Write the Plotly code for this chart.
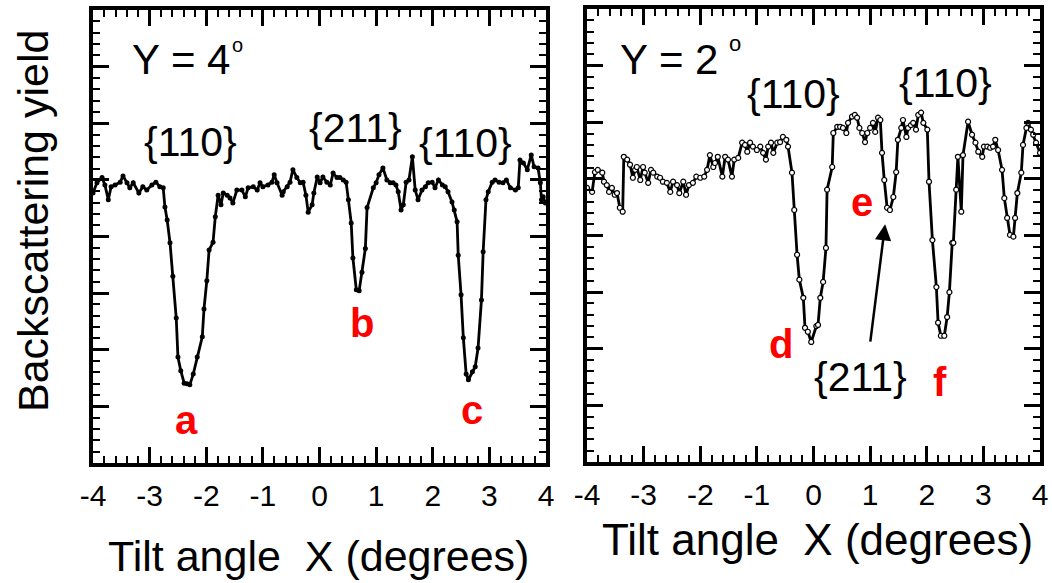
import plotly.graph_objects as go

# ---- data: left panel (Y = 4 deg), tilt angle X (deg) vs backscattering yield (arb. units)
x_left = [-4.00, -3.93, -3.84, -3.79, -3.73, -3.68, -3.61, -3.52, -3.47, -3.40, -3.35, -3.29, -3.19,
          -3.12, -3.05, -2.96, -2.89, -2.82, -2.76, -2.73, -2.69, -2.64, -2.59, -2.53, -2.50, -2.45,
          -2.39, -2.34, -2.29, -2.23, -2.16, -2.07, -2.04, -1.99, -1.95, -1.88, -1.84, -1.79, -1.74,
          -1.70, -1.63, -1.58, -1.53, -1.46, -1.37, -1.31, -1.26, -1.17, -1.10, -1.05, -1.00, -0.91,
          -0.84, -0.80, -0.75, -0.66, -0.64, -0.57, -0.52, -0.47, -0.40, -0.34, -0.29, -0.24, -0.20,
          -0.13, -0.10, -0.04, 0.01, 0.06, 0.13, 0.19, 0.24, 0.31, 0.36, 0.42, 0.47, 0.51, 0.56, 0.59,
          0.65, 0.70, 0.75, 0.81, 0.84, 0.95, 1.00, 1.05, 1.12, 1.19, 1.25, 1.30, 1.35, 1.39, 1.44,
          1.48, 1.53, 1.58, 1.64, 1.69, 1.74, 1.81, 1.87, 1.92, 1.99, 2.04, 2.10, 2.17, 2.22, 2.27,
          2.34, 2.38, 2.43, 2.45, 2.50, 2.54, 2.59, 2.63, 2.70, 2.75, 2.80, 2.86, 2.89, 2.94, 2.98,
          3.05, 3.10, 3.17, 3.24, 3.30, 3.37, 3.46, 3.51, 3.54, 3.60, 3.67, 3.74, 3.79, 3.86, 3.90,
          3.92, 3.95, 3.99]
y_left = [4.77, 4.95, 5.04, 4.91, 4.65, 4.88, 4.91, 4.96, 5.07, 4.95, 4.86, 4.95, 4.77,
          4.88, 4.82, 4.91, 4.96, 4.88, 4.86, 4.52, 4.29, 3.89, 3.30, 2.56, 1.87, 1.63,
          1.41, 1.40, 1.38, 1.57, 1.87, 2.23, 2.72, 3.22, 3.76, 3.90, 4.35, 4.73, 4.56,
          4.77, 4.73, 4.68, 4.59, 4.82, 4.82, 4.70, 4.86, 4.88, 4.82, 4.95, 4.88, 4.91,
          4.96, 5.09, 4.95, 4.73, 4.79, 4.88, 4.96, 5.18, 5.04, 4.95, 4.96, 4.73, 4.43,
          4.56, 4.77, 5.05, 4.95, 5.05, 4.96, 4.91, 5.12, 5.04, 5.04, 5.00, 4.96, 4.65, 4.24, 3.62,
          3.06, 3.04, 3.37, 3.79, 4.51, 4.86, 4.95, 5.09, 5.21, 5.00, 4.95, 4.95, 4.91, 4.79, 4.47,
          4.56, 4.96, 5.00, 5.41, 4.82, 4.65, 4.82, 4.88, 4.95, 4.96, 4.86, 5.00, 4.91, 4.88, 4.79,
          4.61, 4.47, 4.26, 3.67, 2.97, 2.21, 1.57, 1.47, 1.61, 1.70, 2.03, 2.88, 3.73, 4.65, 4.79,
          4.96, 5.00, 4.96, 4.95, 5.00, 4.86, 4.82, 4.86, 5.35, 5.30, 5.18, 5.44, 5.23, 5.21, 4.95,
          4.65, 4.70, 4.59]

# ---- data: right panel (Y = 2 deg)
x_right = [-4.00, -3.91, -3.86, -3.81, -3.73, -3.70, -3.65, -3.61, -3.56, -3.51, -3.47, -3.42, -3.37,
           -3.35, -3.29, -3.24, -3.19, -3.15, -3.12, -3.06, -3.01, -2.98, -2.92, -2.87, -2.83, -2.76,
           -2.71, -2.66, -2.59, -2.53, -2.48, -2.41, -2.37, -2.30, -2.25, -2.20, -2.13, -2.07, -2.00,
           -1.93, -1.88, -1.83, -1.77, -1.74, -1.69, -1.61, -1.56, -1.51, -1.44, -1.40, -1.33, -1.26,
           -1.21, -1.17, -1.12, -1.07, -1.00, -0.94, -0.89, -0.84, -0.80, -0.75, -0.71, -0.64, -0.59,
           -0.54, -0.48, -0.45, -0.38, -0.34, -0.29, -0.25, -0.18, -0.15, -0.10, -0.04, 0.05, 0.08,
           0.12, 0.17, 0.22, 0.24, 0.33, 0.35, 0.42, 0.47, 0.52, 0.58, 0.61, 0.68, 0.73, 0.77, 0.81,
           0.86, 0.91, 0.95, 1.00, 1.05, 1.09, 1.14, 1.18, 1.21, 1.25, 1.30, 1.35, 1.41, 1.46, 1.49,
           1.55, 1.58, 1.64, 1.67, 1.72, 1.76, 1.81, 1.85, 1.90, 1.94, 2.01, 2.04, 2.10, 2.17, 2.20,
           2.25, 2.31, 2.36, 2.40, 2.45, 2.47, 2.52, 2.55, 2.61, 2.64, 2.73, 2.80, 2.86, 2.91, 2.98,
           3.01, 3.07, 3.12, 3.17, 3.21, 3.26, 3.33, 3.37, 3.42, 3.47, 3.53, 3.56, 3.60, 3.67, 3.70,
           3.76, 3.79, 3.84, 3.88, 3.93, 4.00]
y_right = [4.84, 4.77, 5.12, 5.16, 5.11, 4.95, 4.89, 4.77, 4.84, 4.72, 4.75, 4.49, 4.42,
           5.39, 5.34, 5.25, 5.02, 5.16, 5.21, 4.98, 5.21, 5.11, 4.93, 5.16, 5.11, 5.04,
           5.02, 4.95, 4.93, 4.77, 4.95, 4.89, 4.75, 4.95, 4.72, 4.89, 4.93, 5.04, 5.02,
           5.04, 5.16, 5.42, 5.21, 5.28, 5.39, 5.04, 5.39, 5.34, 5.04, 5.34, 5.37, 5.64,
           5.60, 5.48, 5.64, 5.57, 5.51, 5.57, 5.46, 5.34, 5.57, 5.64, 5.46, 5.64, 5.65,
           5.74, 5.69, 5.57, 5.11, 4.45, 3.66, 3.22, 2.90, 2.37, 2.30, 2.12, 2.40, 2.42,
           2.90, 3.18, 3.78, 4.81, 5.21, 5.81, 5.92, 5.92, 5.90, 5.81, 5.99, 6.10, 6.13, 6.08, 5.90,
           5.81, 5.65, 5.81, 5.90, 5.99, 5.83, 6.08, 6.04, 5.46, 4.98, 4.49, 4.45, 4.68, 5.12, 5.69,
           5.90, 6.04, 5.74, 5.90, 5.95, 5.99, 5.87, 6.13, 6.17, 5.99, 5.87, 4.95, 3.92, 3.09, 2.46,
           2.23, 2.23, 2.56, 3.00, 3.87, 3.87, 4.81, 5.39, 4.42, 5.42, 6.01, 5.78, 5.64, 5.48, 5.39,
           5.57, 5.57, 5.55, 5.57, 5.69, 5.51, 5.16, 4.66, 4.31, 4.01, 3.98, 4.31, 4.75, 5.11, 5.60,
           5.90, 5.99, 5.87, 5.78, 5.64, 5.46]

x_ticks = [-4, -3, -2, -1, 0, 1, 2, 3, 4]
x_title = "Tilt angle\u00a0 X (degrees)"
y_title = "Backscattering yield"

FONT = "Liberation Sans, Arial, sans-serif"

fig = go.Figure()
fig.add_trace(go.Scatter(x=x_left, y=y_left, mode="lines+markers", xaxis="x", yaxis="y",
                         line=dict(color="black", width=2.8),
                         marker=dict(size=5, color="black"), showlegend=False))
fig.add_trace(go.Scatter(x=x_right, y=y_right, mode="lines+markers", xaxis="x2", yaxis="y2",
                         line=dict(color="black", width=2.8),
                         marker=dict(size=5, color="white", line=dict(color="black", width=1.2)),
                         showlegend=False))

axis_common = dict(showline=True, linewidth=3.5, linecolor="black", mirror="allticks",
                   ticks="inside", ticklen=16, tickwidth=2.5, tickcolor="black",
                   showgrid=False, zeroline=False, automargin=False,
                   minor=dict(ticks="inside", ticklen=7, tickwidth=2.2, tickcolor="black", dtick=0.2))

xa = dict(axis_common, range=[-4, 4], tickvals=x_ticks, ticktext=[str(v) for v in x_ticks],
          tickfont=dict(family=FONT, size=30, color="black"), ticklabelstandoff=3)
ya = dict(axis_common, range=[0, 8], dtick=1, showticklabels=False)

fig.update_layout(
    width=1052, height=583, autosize=False,
    margin=dict(l=0, r=0, t=0, b=0, pad=0),
    paper_bgcolor="white", plot_bgcolor="white",
    xaxis=dict(xa, domain=[93/1052, 546/1052], anchor="y"),
    yaxis=dict(ya, domain=[(583-463)/583, (583-10)/583], anchor="x"),
    xaxis2=dict(xa, domain=[587/1052, 1040/1052], anchor="y2"),
    yaxis2=dict(ya, domain=[(583-462)/583, (583-9)/583], anchor="x2"),
)

ann = []
def txt(text, x, y, xr, yr, size, color="black", bold=False):
    ann.append(dict(text=("<b>%s</b>" % text) if bold else text, x=x, y=y, xref=xr, yref=yr,
                    showarrow=False, xanchor="center", yanchor="middle",
                    font=dict(family=FONT, size=size, color=color)))

# left panel labels
txt("Y = 4", -2.445, 7.12, "x", "y", 42)
txt("o", -1.456, 7.385, "x", "y", 20)
txt("{110}", -2.286, 5.67, "x", "y", 41)
txt("{211}", 0.629, 5.92, "x", "y", 41)
txt("{110}", 2.572, 5.65, "x", "y", 41)
txt("a", -2.357, 0.76, "x", "y", 40, "red", True)
txt("b", 0.753, 2.47, "x", "y", 40, "red", True)
txt("c", 2.696, 0.94, "x", "y", 40, "red", True)
# right panel labels
txt("Y = 2", -2.551, 7.10, "x2", "y2", 42)
txt("o", -1.385, 7.385, "x2", "y2", 22)
txt("{110}", -0.360, 6.50, "x2", "y2", 41)
txt("{110}", 2.325, 6.70, "x2", "y2", 41)
txt("e", 0.859, 4.59, "x2", "y2", 40, "red", True)
txt("d", -0.572, 2.08, "x2", "y2", 40, "red", True)
txt("{211}", 0.823, 1.50, "x2", "y2", 41)
txt("f", 2.237, 1.41, "x2", "y2", 40, "red", True)
# arrow from {211} to dip e
ann.append(dict(x=1.265, y=4.20, ax=1.0, ay=2.10, xref="x2", yref="y2", axref="x2", ayref="y2",
                text="", showarrow=True, arrowhead=2, arrowsize=1.3, arrowwidth=2.5,
                arrowcolor="black"))
# axis titles
ann.append(dict(text=x_title, x=318/1052, y=1-556/583, xref="paper", yref="paper",
                showarrow=False, xanchor="center", yanchor="middle",
                font=dict(family=FONT, size=43, color="black")))
ann.append(dict(text=x_title, x=817/1052, y=1-539/583, xref="paper", yref="paper",
                showarrow=False, xanchor="center", yanchor="middle",
                font=dict(family=FONT, size=44, color="black")))
ann.append(dict(text=y_title, x=33/1052, y=1-221/583, xref="paper", yref="paper",
                showarrow=False, xanchor="center", yanchor="middle", textangle=-90,
                font=dict(family=FONT, size=43, color="black")))
fig.update_layout(annotations=ann)

fig.write_html("out.html")
